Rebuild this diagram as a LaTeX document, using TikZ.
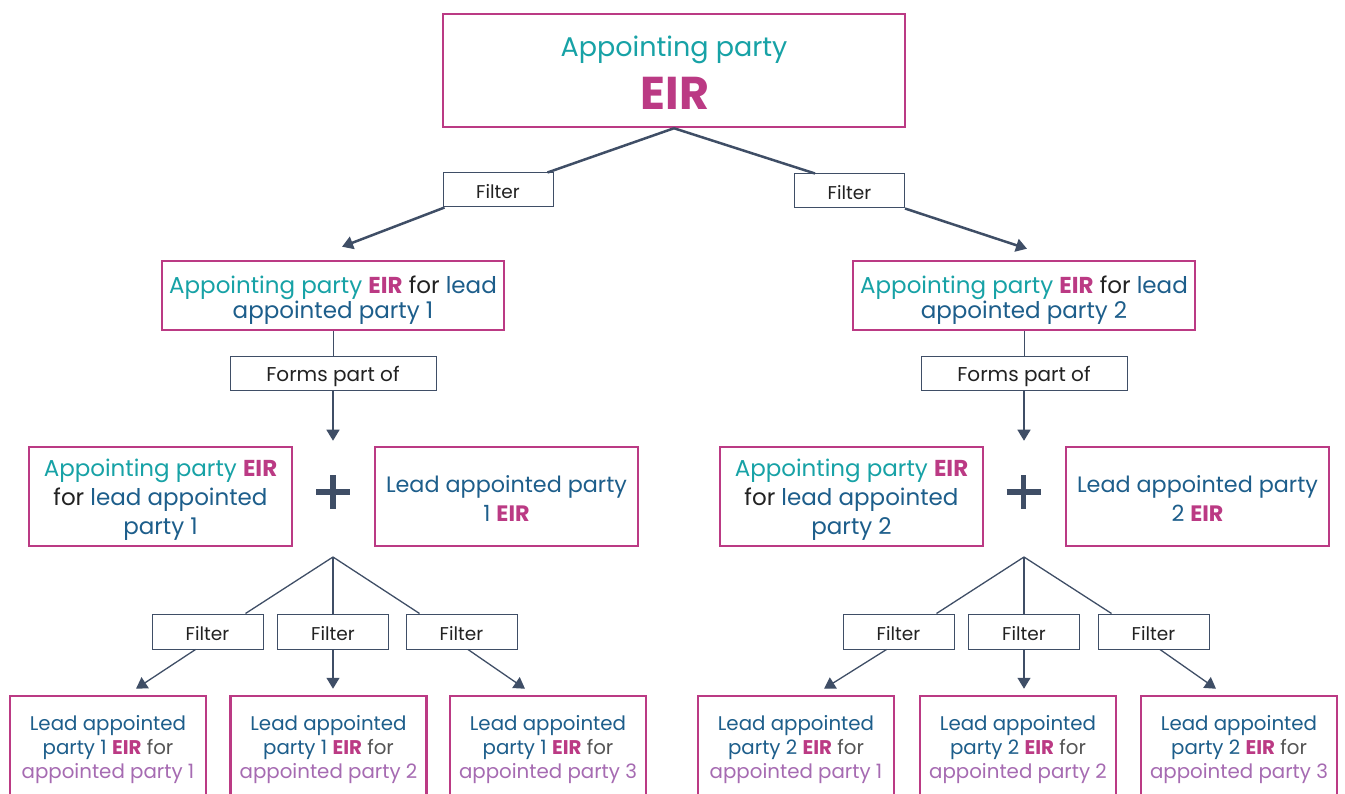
\documentclass[tikz,border=0pt]{standalone}
\usepackage{fontspec}
\setmainfont{Poppins}
\usetikzlibrary{arrows.meta,calc}
\definecolor{mag}{HTML}{BB3A84}
\definecolor{tealc}{HTML}{17A2A6}
\definecolor{dblue}{HTML}{1D5E8B}
\definecolor{purp}{HTML}{A66BB2}
\definecolor{slate}{HTML}{3F4E66}
\definecolor{greyt}{HTML}{555555}
\definecolor{blk}{HTML}{222222}
\newcommand{\eir}{{\bfseries\color{mag}EIR}}
\begin{document}
\begin{tikzpicture}[x=1pt,y=-1pt,
  box/.style={draw=mag, line width=2.5pt, fill=white, inner sep=0pt},
  txt/.style={align=center, inner sep=0pt, text=blk},
  filt/.style={draw=slate, line width=1pt, fill=white, minimum width=110pt, minimum height=34pt, inner sep=0pt},
  filtxt/.style={inner sep=0pt, text=blk, font=\fontsize{18.5}{22}\selectfont},
  formtxt/.style={inner sep=0pt, text=blk, font=\fontsize{20}{22}\selectfont},
  thick conn/.style={draw=slate, line width=2.5pt},
  thin conn/.style={draw=slate, line width=1.3pt},
  arr/.style={-{Triangle[length=11pt,width=13pt]}},
  midtxt/.style={txt, font=\fontsize{23}{25}\selectfont},
  rowtxt/.style={txt, font=\fontsize{23}{29}\selectfont},
  rowtxtb/.style={txt, font=\fontsize{22.3}{28.5}\selectfont},
  bottxt/.style={txt, font=\fontsize{19.8}{24}\selectfont}
]
\useasboundingbox (0,0) rectangle (1345,794);
\clip (0,0) rectangle (1345,794);

% top
\node[box, minimum width=462pt, minimum height=113pt] (top) at (674,70.5) {};
\node[font=\fontsize{27}{30}\selectfont, text=tealc] (toptxt) at (674,49.5) {Appointing party};
\node[font=\fontsize{46}{48}\selectfont\bfseries, text=mag] (topeir) at (675,93) {EIR};

% first filters
\node[filt] (f1) at (498,190) {};
\node[filtxt] (f1t) at ($(f1.center)+(0,2)$) {Filter};
\node[filt] (f2) at (849.5,191) {};
\node[filtxt] (f2t) at ($(f2.center)+(0,2)$) {Filter};

% level 1 boxes
\node[box, minimum width=342pt, minimum height=69pt] (L1) at (333,295.5) {};
\node[midtxt] (L1t) at ($(L1.center)+(0,4.5)$)
  {{\color{tealc}Appointing party} \eir{} for {\color{dblue}lead}\\{\color{dblue}appointed party 1}};
\node[box, minimum width=342pt, minimum height=69pt] (R1) at (1024,295.5) {};
\node[midtxt] (R1t) at ($(R1.center)+(0,4.5)$)
  {{\color{tealc}Appointing party} \eir{} for {\color{dblue}lead}\\{\color{dblue}appointed party 2}};

\draw[thick conn] (top.south) -- ($(f1.north east)+(-6,0)$);
\draw[thick conn] (top.south) -- ($(f2.north west)+(21,0)$);
\draw[thick conn, arr] ($(f1.south west)+(2,0)$) -- ($(L1.north)+(9,-13)$);
\draw[thick conn, arr] ($(f2.south east)+(0,0)$) -- ($(R1.north)+(3,-11)$);

% forms part of
\node[filt, minimum width=206pt] (fp1) at (333,374) {};
\node[formtxt] (fp1t) at ($(fp1.center)+(0,2)$) {Forms part of};
\node[filt, minimum width=206pt] (fp2) at (1024,374) {};
\node[formtxt] (fp2t) at ($(fp2.center)+(0,2)$) {Forms part of};
\draw[draw=slate, line width=1pt] (L1.south) -- (fp1.north);
\draw[draw=slate, line width=1pt] (R1.south) -- (fp2.north);

% row 3
\node[box, minimum width=263pt, minimum height=99pt] (A1) at (160.5,496.5) {};
\node[rowtxt] (A1t) at ($(A1.center)+(0,3)$)
  {{\color{tealc}Appointing party} \eir\\for {\color{dblue}lead appointed}\\{\color{dblue}party 1}};
\node[box, minimum width=263pt, minimum height=99pt] (B1) at (506.5,496.5) {};
\node[rowtxtb] (B1t) at ($(B1.center)+(0,2)$)
  {{\color{dblue}Lead appointed party}\\{\color{dblue}1} \eir};
\node[box, minimum width=263pt, minimum height=99pt] (A2) at (851.5,496.5) {};
\node[rowtxt] (A2t) at ($(A2.center)+(0,3)$)
  {{\color{tealc}Appointing party} \eir\\for {\color{dblue}lead appointed}\\{\color{dblue}party 2}};
\node[box, minimum width=263pt, minimum height=99pt] (B2) at (1197.5,496.5) {};
\node[rowtxtb] (B2t) at ($(B2.center)+(0,2)$)
  {{\color{dblue}Lead appointed party}\\{\color{dblue}2} \eir};

\draw[thin conn, arr] (fp1.south) -- ($(fp1.south |- A1.north)+(0,-5)$);
\draw[thin conn, arr] (fp2.south) -- ($(fp2.south |- A2.north)+(0,-5)$);

% plus signs
\coordinate (p1) at (333,492);
\coordinate (p2) at (1023.5,492);
\foreach \p in {p1,p2}{
  \draw[slate, line width=5.5pt] ($(\p)+(-17,0)$) -- ($(\p)+(17,0)$);
  \draw[slate, line width=5.5pt] ($(\p)+(0,-17)$) -- ($(\p)+(0,17)$);
}

% bottom filters
\foreach \n/\x in {bf1/207.5, bf2/333, bf3/461.5, bf4/898.5, bf5/1024, bf6/1153.5}{
  \node[filt, minimum width=111pt, minimum height=35pt] (\n) at (\x,631.5) {};
  \node[filtxt] (\n t) at ($(\n.center)+(0,2)$) {Filter};
}

\coordinate (v1) at (333,557);
\coordinate (v2) at (1024,557);

% bottom boxes
\foreach \n/\x/\a/\b in {bb1/108/1/1, bb2/328.5/1/2, bb3/548/1/3, bb4/796/2/1, bb5/1018/2/2, bb6/1239/2/3}{
  \node[box, minimum width=196pt, minimum height=102pt] (\n) at (\x,747) {};
  \node[bottxt] (\n t) at ($(\n.center)+(0,3)$)
    {{\color{dblue}Lead appointed}\\{\color{dblue}party \a} \eir{} {\color{greyt}for}\\{\color{purp}appointed party \b}};
}

% fan lines
\draw[thin conn] (v1) -- ($(bf1.north east)+(-18,0)$);
\draw[thin conn] (v1) -- (bf2.north);
\draw[thin conn] (v1) -- ($(bf3.north west)+(14,0)$);
\draw[thin conn] (v2) -- ($(bf4.north east)+(-18,0)$);
\draw[thin conn] (v2) -- (bf5.north);
\draw[thin conn] (v2) -- ($(bf6.north west)+(14,0)$);

\draw[thin conn, arr] ($(bf1.south)+(-12,0)$) -- ($(bb1.north)+(28,-6)$);
\draw[thin conn, arr] (bf2.south) -- ($(bf2.south |- bb2.north)+(0,-6)$);
\draw[thin conn, arr] ($(bf3.south)+(6.5,0)$) -- ($(bb3.north)+(-23,-6)$);
\draw[thin conn, arr] ($(bf4.south)+(-12,0)$) -- ($(bb4.north)+(28,-6)$);
\draw[thin conn, arr] (bf5.south) -- ($(bf5.south |- bb5.north)+(0,-6)$);
\draw[thin conn, arr] ($(bf6.south)+(6.5,0)$) -- ($(bb6.north)+(-23,-6)$);
\end{tikzpicture}
\end{document}
